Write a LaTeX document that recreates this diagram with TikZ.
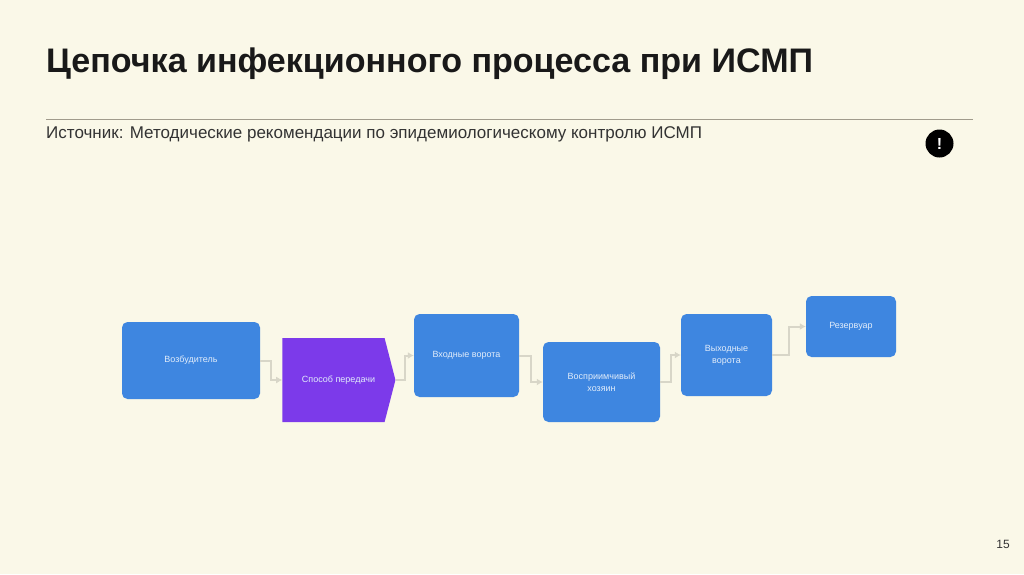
\documentclass[tikz,border=0pt]{standalone}
\usepackage{fontspec}
\setmainfont{Liberation Sans}
\usetikzlibrary{arrows.meta,calc,positioning,shapes.symbols}
\definecolor{SlideCream}{RGB}{250,248,232}
\definecolor{ChainBlue}{RGB}{62,134,224}
\definecolor{ChainViolet}{RGB}{124,58,234}
\definecolor{LinkGray}{RGB}{216,214,200}
\definecolor{RuleGray}{RGB}{160,155,140}
\definecolor{BoxText}{RGB}{225,236,250}
\tikzset{
  chainbox/.style={fill=ChainBlue,rounded corners=5.5pt,inner sep=0pt,text=BoxText,
    font=\fontsize{9}{12}\selectfont,align=center},
  chainlink/.style={draw=LinkGray,line width=2pt,-{Latex[length=6pt,width=7pt]}},
}
\begin{document}
\begin{tikzpicture}[x=1pt,y=-1pt,>=Latex]
      \useasboundingbox (0,0) rectangle (1024,574);
      \fill[SlideCream] (0,0) rectangle (1024,574);
      \node[anchor=west,font=\bfseries\fontsize{34.05}{38}\selectfont,text=black!90,inner sep=0pt] (title) at (46,64)
        {Цепочка инфекционного процесса при ИСМП};
      \coordinate (ruleL) at (46,119.5);
      \coordinate (ruleR) at (973,119.5);
      \draw[RuleGray,line width=0.8pt] (ruleL)--(ruleR);
      \node[anchor=west,font=\fontsize{17}{20}\selectfont,text=black!80,inner sep=0pt] (source) at (46,134.5)
        {Источник: Методические рекомендации по эпидемиологическому контролю ИСМП};
      \node[circle,fill=black,text=white,minimum size=28pt,inner sep=0pt,font=\bfseries\fontsize{16}{16}\selectfont] (warn) at (939.5,143.5) {!};
      \node[chainbox,minimum width=138pt,minimum height=77pt] (agent) at (191,360.5) {Возбудитель};
      \node[signal,signal to=east,signal pointer angle=151,fill=ChainViolet,text=BoxText,inner sep=0pt,
        minimum width=113pt,minimum height=84pt,font=\fontsize{9}{12}\selectfont] (route) at (333.5,380) {\hspace{10pt}Способ передачи};
      \node[chainbox,minimum width=105pt,minimum height=83pt] (entry) at (466.5,355.5) {Входные ворота};
      \node[chainbox,minimum width=117pt,minimum height=80pt] (host) at (601.5,382) {Восприимчивый\\хозяин};
      \node[chainbox,minimum width=91pt,minimum height=82pt] (exit) at (726.5,355) {Выходные\\ворота};
      \node[chainbox,minimum width=90pt,minimum height=61pt] (reservoir) at (851,326.5) {Резервуар};
      % links between the steps
      \draw[chainlink] (agent.east) -| ($(agent.east)!0.5!(route.west)$) |- (route.west);
      \draw[chainlink] (route.east) -| ($(route.east)!0.5!(entry.west)$) |- (entry.west);
      \draw[chainlink] (entry.east) -| ($(entry.east)!0.5!(host.west)$) |- (host.west);
      \draw[chainlink] (host.east) -| ($(host.east)!0.5!(exit.west)$) |- (exit.west);
      \draw[chainlink] (exit.east) -| ($(exit.east)!0.5!(reservoir.west)$) |- (reservoir.west);
      \node[font=\fontsize{12}{14}\selectfont,text=black!80,inner sep=0pt] (page) at (1003,544) {15};
    \end{tikzpicture}
\end{document}
